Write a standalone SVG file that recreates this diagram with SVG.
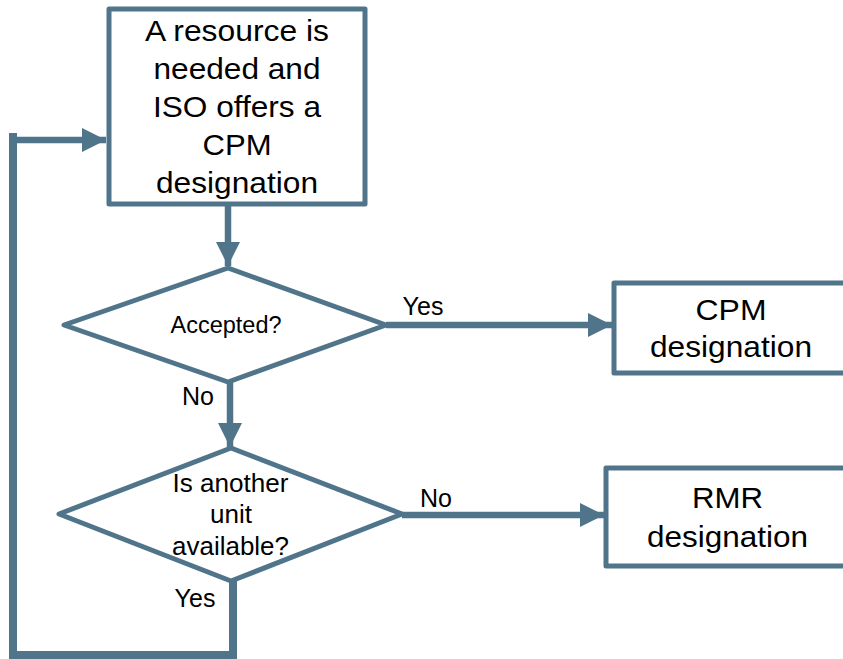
<svg xmlns="http://www.w3.org/2000/svg" width="843" height="659" viewBox="0 0 843 659">
<style>
.shape{fill:#fff;stroke:#50758B;stroke-width:5;stroke-linejoin:round}
.conn{fill:none;stroke:#50758B;stroke-width:6.5}
.t{font-family:"Liberation Sans",Arial,sans-serif;fill:#000;text-anchor:middle}
.big{font-size:30px}
.mid{font-size:25px}
.sm{font-size:23.5px}
</style>
<defs>
<marker id="ah" markerUnits="userSpaceOnUse" markerWidth="26" markerHeight="26" refX="24" refY="12" orient="auto">
<path d="M0,0 L24,12 L0,24 Z" fill="#50758B"/>
</marker>
</defs>
<rect width="843" height="659" fill="#fff"/>
<g id="connectors">
<line class="conn" x1="228" y1="205" x2="228" y2="266" marker-end="url(#ah)"/>
<line class="conn" x1="386" y1="325" x2="612" y2="325" marker-end="url(#ah)"/>
<line class="conn" x1="230" y1="382" x2="230" y2="447" marker-end="url(#ah)"/>
<line class="conn" x1="402" y1="515" x2="604" y2="515" marker-end="url(#ah)"/>
<polyline class="conn" points="233,580 233,655 13,655 13,133" style="stroke-width:8"/>
<line class="conn" x1="9" y1="140" x2="106" y2="140" marker-end="url(#ah)"/>
<text class="t mid" x="423" y="315">Yes</text>
<text class="t mid" x="198" y="405">No</text>
<text class="t mid" x="436" y="507">No</text>
<text class="t mid" x="195" y="607">Yes</text>
</g>
<g id="start">
<rect class="shape" x="109" y="9" width="256" height="195"/>
<text class="t big" x="237" y="40.5" textLength="184" lengthAdjust="spacingAndGlyphs">A resource is</text>
<text class="t big" x="237" y="78.5" textLength="167" lengthAdjust="spacingAndGlyphs">needed and</text>
<text class="t big" x="237" y="116.5" textLength="168" lengthAdjust="spacingAndGlyphs">ISO offers a</text>
<text class="t big" x="237" y="155" textLength="69" lengthAdjust="spacingAndGlyphs">CPM</text>
<text class="t big" x="237" y="193" textLength="162" lengthAdjust="spacingAndGlyphs">designation</text>
</g>
<g id="accepted">
<polygon class="shape" points="228,268 386,325 228,382 64,325"/>
<text class="t sm" x="226" y="333">Accepted?</text>
</g>
<g id="cpm">
<rect class="shape" x="614" y="283" width="240" height="90"/>
<text class="t big" x="731" y="320" textLength="71" lengthAdjust="spacingAndGlyphs">CPM</text>
<text class="t big" x="731" y="357" textLength="162" lengthAdjust="spacingAndGlyphs">designation</text>
</g>
<g id="another">
<polygon class="shape" points="231,448 402,514 231,581 59,514"/>
<text class="t mid" x="230.5" y="492" textLength="116" lengthAdjust="spacingAndGlyphs">Is another</text>
<text class="t mid" x="231" y="523" textLength="42" lengthAdjust="spacingAndGlyphs">unit</text>
<text class="t mid" x="230.5" y="555" textLength="117" lengthAdjust="spacingAndGlyphs">available?</text>
</g>
<g id="rmr">
<rect class="shape" x="606" y="468" width="250" height="98"/>
<text class="t big" x="727.5" y="508" textLength="71" lengthAdjust="spacingAndGlyphs">RMR</text>
<text class="t big" x="727.5" y="547" textLength="161" lengthAdjust="spacingAndGlyphs">designation</text>
</g>
</svg>
